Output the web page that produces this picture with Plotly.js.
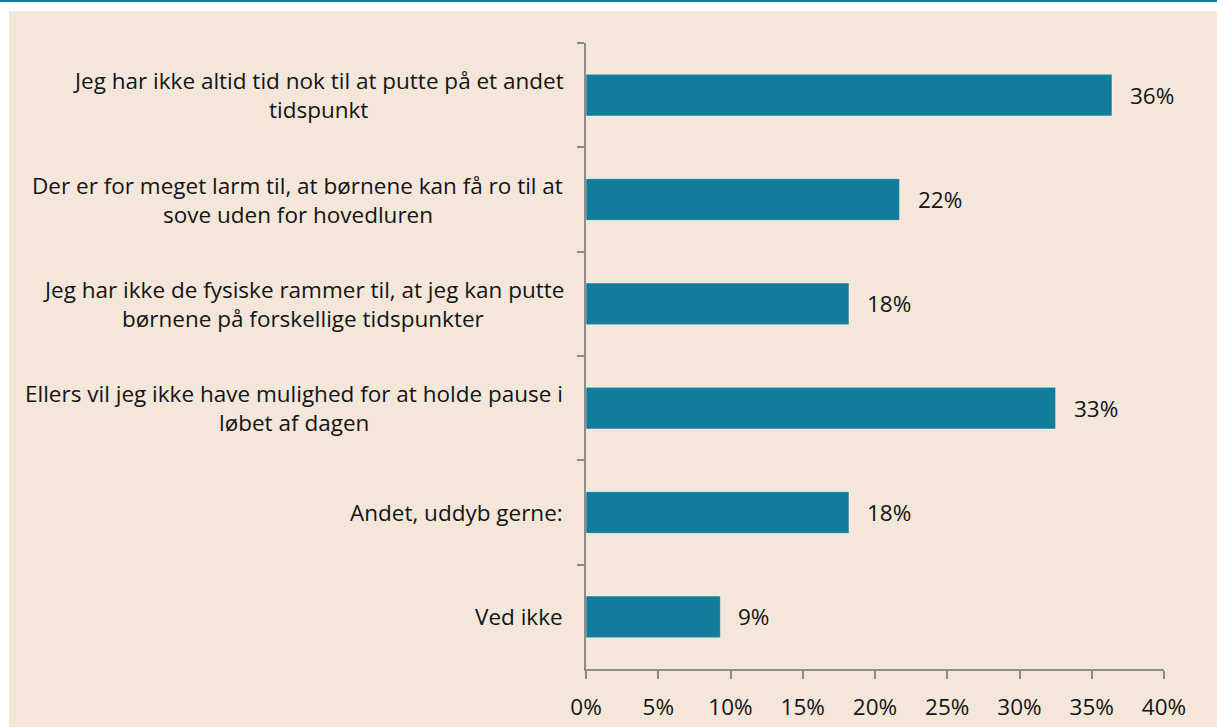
<!DOCTYPE html>
<html>
<head>
<meta charset="utf-8">
<script src="https://cdn.plot.ly/plotly-3.0.1.min.js"></script>
<style>
  html, body { margin: 0; padding: 0; background: #ffffff; }
  #wrap { position: relative; width: 1217px; height: 727px; background: #ffffff; overflow: hidden; }
  #topline { position: absolute; left: 0; top: 0; width: 1217px; height: 2px; background: #12809A; }
  #chart { position: absolute; left: 9px; top: 11px; width: 1208px; height: 716px; }
</style>
</head>
<body>
<div id="wrap"><div id="topline"></div><div id="chart"></div></div>
<script>
const categories = [
  "Jeg har ikke altid tid nok til at putte på et andet<br>tidspunkt",
  "Der er for meget larm til, at børnene kan få ro til at<br>sove uden for hovedluren",
  "Jeg har ikke de fysiske rammer til, at jeg kan putte<br>børnene på forskellige tidspunkter",
  "Ellers vil jeg ikke have mulighed for at holde pause i<br>løbet af dagen",
  "Andet, uddyb gerne:",
  "Ved ikke"
];
const values = [36.4, 21.7, 18.2, 32.5, 18.2, 9.3];
const valueLabels = ["36%", "22%", "18%", "33%", "18%", "9%"];
const xTickVals = [0, 5, 10, 15, 20, 25, 30, 35, 40];
const xTickText = ["0%", "5%", "10%", "15%", "20%", "25%", "30%", "35%", "40%"];

const FONT = "Open Sans";
const FSIZE = 22.5;
const TEXTCOL = "#141414";
const LINEGAP = 29;

const canvas = document.createElement("canvas");
const ctx = canvas.getContext("2d");
ctx.font = FSIZE + "px '" + FONT + "'";

const annotations = [];
categories.forEach(function (cat, i) {
  const lines = cat.split("<br>");
  let maxW = 0;
  lines.forEach(function (l) { maxW = Math.max(maxW, ctx.measureText(l).width); });
  const n = lines.length;
  lines.forEach(function (l, k) {
    annotations.push({
      xref: "paper", yref: "y", x: 0, y: cat,
      text: l, showarrow: false,
      xanchor: "center", yanchor: "middle",
      xshift: -(23 + maxW / 2),
      yshift: ((n - 1) / 2 - k) * LINEGAP,
      font: { family: FONT, size: FSIZE, color: TEXTCOL }
    });
  });
  annotations.push({
    xref: "x", yref: "y", x: values[i], y: cat,
    text: valueLabels[i], showarrow: false,
    xanchor: "left", yanchor: "middle", xshift: 16,
    font: { family: FONT, size: FSIZE, color: TEXTCOL }
  });
});

const trace = {
  type: "bar", orientation: "h",
  x: values, y: categories,
  marker: { color: "#117D9A", line: { color: "rgba(255,255,255,0.45)", width: 1 } },
  hoverinfo: "none"
};

const layout = {
  width: 1208, height: 716,
  margin: { l: 577, r: 53, t: 32, b: 58 },
  paper_bgcolor: "#F4E7DA", plot_bgcolor: "#F4E7DA",
  showlegend: false,
  bargap: 0.6,
  font: { family: FONT, size: FSIZE, color: TEXTCOL },
  xaxis: {
    range: [0, 40], tickvals: xTickVals, ticktext: xTickText,
    showgrid: false, zeroline: false,
    showline: true, linecolor: "#8C8C8C", linewidth: 2,
    ticks: "outside", ticklen: 8, tickwidth: 2, tickcolor: "#8C8C8C",
    ticklabelstandoff: 9,
    tickfont: { family: FONT, size: FSIZE, color: TEXTCOL },
    fixedrange: true
  },
  yaxis: {
    type: "category", autorange: "reversed",
    showticklabels: false, showgrid: false, zeroline: false,
    showline: true, linecolor: "#8C8C8C", linewidth: 2,
    ticks: "outside", tickson: "boundaries", ticklen: 7, tickwidth: 2, tickcolor: "#8C8C8C",
    fixedrange: true
  },
  annotations: annotations
};

Plotly.newPlot("chart", [trace], layout, { displayModeBar: false, staticPlot: true });
</script>
</body>
</html>
